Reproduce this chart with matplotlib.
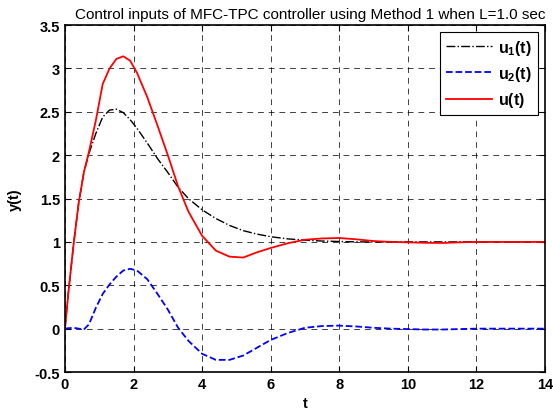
import matplotlib
matplotlib.use("Agg")
import matplotlib.pyplot as plt

t = [0, 0.1, 0.25, 0.4, 0.55, 0.7, 0.9, 1.1, 1.3, 1.5, 1.7, 1.9, 2.1, 2.4, 2.7,
     3.0, 3.3, 3.6, 4.0, 4.4, 4.8, 5.2, 5.6, 6.0, 6.5, 7.0, 7.5, 8.0, 8.5, 9.0,
     9.5, 10.0, 10.5, 11.0, 11.5, 12.0, 13.0, 14.0]
u1 = [0, 0.42, 0.97, 1.45, 1.80, 2.02, 2.25, 2.44, 2.52, 2.53, 2.49, 2.41, 2.31,
      2.14, 1.96, 1.80, 1.63, 1.50, 1.37, 1.27, 1.19, 1.13, 1.09, 1.06, 1.035,
      1.02, 1.01, 1.005, 1.0, 1.0, 1.0, 1.0, 1.0, 1.0, 1.0, 1.0, 1.0, 1.0]
u2 = [0, 0.005, 0.01, 0.0, -0.01, 0.05, 0.24, 0.40, 0.51, 0.60, 0.67, 0.69, 0.67,
      0.57, 0.40, 0.22, 0.01, -0.14, -0.29, -0.36, -0.36, -0.31, -0.22, -0.13,
      -0.05, 0.01, 0.03, 0.035, 0.025, 0.01, 0.0, -0.005, -0.01, -0.01, -0.005,
      0.0, 0.0, 0.0]
u = [0, 0.42, 0.97, 1.45, 1.80, 2.04, 2.40, 2.82, 3.00, 3.11, 3.14, 3.09, 2.95,
     2.67, 2.34, 2.00, 1.64, 1.35, 1.07, 0.90, 0.83, 0.82, 0.88, 0.93, 0.985,
     1.025, 1.04, 1.045, 1.03, 1.01, 1.0, 0.995, 0.99, 0.988, 0.995, 1.0, 1.0, 1.0]

xticks = [0, 2, 4, 6, 8, 10, 12, 14]
yticks = [-0.5, 0, 0.5, 1, 1.5, 2, 2.5, 3, 3.5]
ytick_labels = ["-0.5", "0", "0.5", "1", "1.5", "2", "2.5", "3", "3.5"]

plt.rcParams['font.family'] = ['Liberation Sans', 'DejaVu Sans']
plt.rcParams['mathtext.fontset'] = 'custom'
plt.rcParams['mathtext.bf'] = 'Liberation Sans:bold'
plt.rcParams['mathtext.rm'] = 'Liberation Sans:bold'

fig = plt.figure(figsize=(5.53, 4.14), dpi=100)
ax = fig.add_axes([0.1175, 0.099, 0.868, 0.838])

ax.plot(t, u1, color='black', linestyle='-.', linewidth=1.0, label=r'$\mathbf{u_1(t)}$')
ax.plot(t, u2, color='blue', linestyle='--', linewidth=1.3, label=r'$\mathbf{u_2(t)}$')
ax.plot(t, u, color='red', linestyle='-', linewidth=1.3, label=r'$\mathbf{u(t)}$')

ax.set_xlim(0, 14)
ax.set_ylim(-0.5, 3.5)
ax.set_xticks(xticks)
ax.set_yticks(yticks)
ax.set_yticklabels(ytick_labels)
ax.tick_params(direction='in', top=True, right=True, labelsize=10.5, length=4, width=0.8)
for lab in ax.get_xticklabels() + ax.get_yticklabels():
    lab.set_fontweight('bold')
ax.grid(True, color='black', linestyle=(0, (6, 5)), linewidth=0.7, alpha=0.75)
for s in ax.spines.values():
    s.set_linewidth(1.2)

ax.set_xlabel('t', fontweight='bold', fontsize=10.5, labelpad=4)
ax.set_ylabel('y(t)', fontweight='bold', fontsize=10.5, labelpad=9)
ax.set_title('Control inputs of MFC-TPC controller using Method 1 when L=1.0 sec',
             fontsize=11.0, pad=5, x=0.51)

leg = ax.legend(loc='upper right', fontsize=11.5, handlelength=2.9, handletextpad=0.4,
                fancybox=False, framealpha=1, edgecolor='black',
                borderaxespad=0.45, labelspacing=0.45, borderpad=0.35)
leg.get_frame().set_linewidth(0.8)

fig.savefig('out.png', dpi=100)
